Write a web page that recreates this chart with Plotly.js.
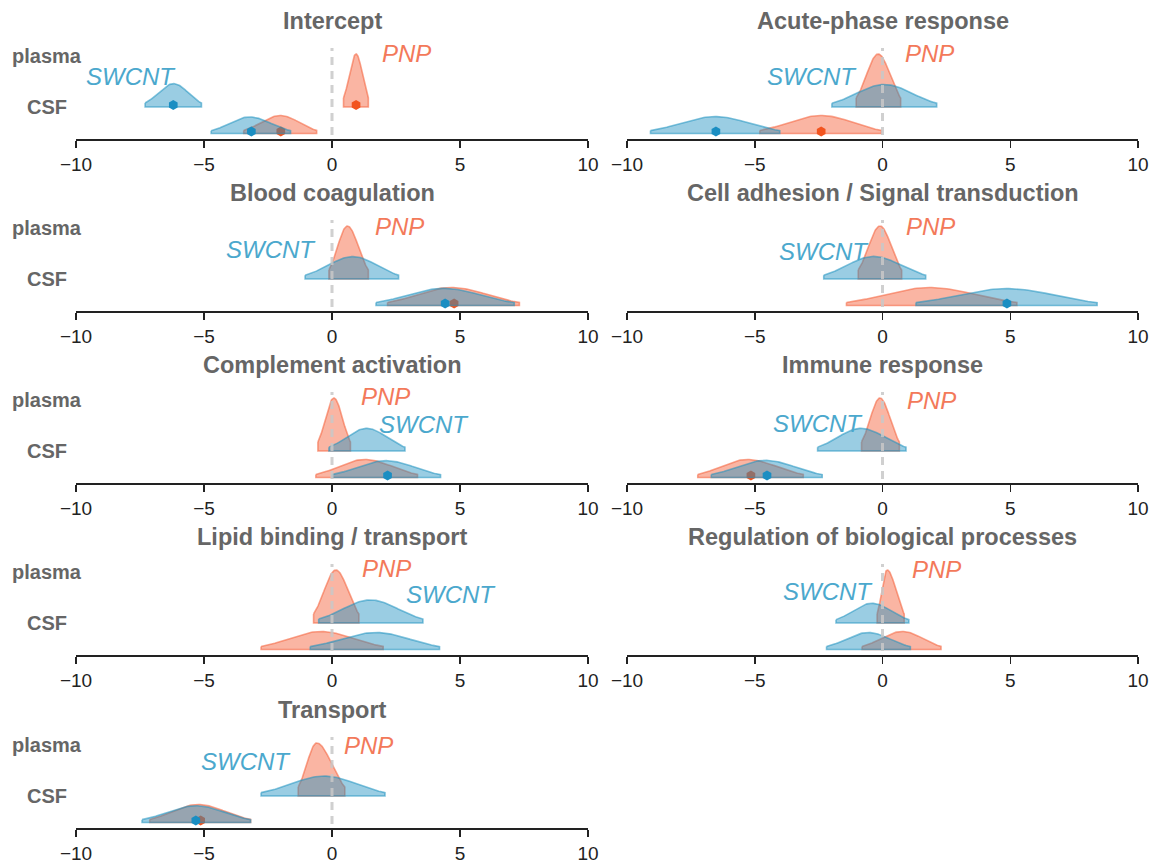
<!DOCTYPE html>
<html>
<head>
<meta charset="utf-8">
<script src="https://cdn.plot.ly/plotly-3.0.1.min.js"></script>
<style>html,body{margin:0;padding:0;background:#fff;}#chart{width:1156px;height:867px;}</style>
</head>
<body>
<div id="chart"></div>
<script>
// ---------------- DATA ----------------
const panels = ["Intercept", "Acute-phase response", "Blood coagulation",
  "Cell adhesion / Signal transduction", "Complement activation", "Immune response",
  "Lipid binding / transport", "Regulation of biological processes", "Transport"];
const rowLabels = ["plasma", "CSF"];
const groups = ["PNP", "SWCNT"];
const tickVals = [-10, -5, 0, 5, 10];

// posterior ridges: peak (mode), lower and upper interval bound
const pnpPlasmaPeak = [0.94, -0.17, 0.60, -0.10, 0.07, -0.10, 0.15, 0.18, -0.60];
const pnpPlasmaLo   = [0.45, -1.03, -0.12, -0.95, -0.55, -0.82, -0.72, -0.21, -1.32];
const pnpPlasmaHi   = [1.42, 0.71, 1.42, 0.75, 0.72, 0.66, 1.05, 0.85, 0.50];

const swPlasmaPeak  = [-6.19, 0.07, 0.82, -0.35, 1.35, -0.85, 1.50, -0.42, -0.30];
const swPlasmaLo    = [-7.30, -1.98, -1.05, -2.30, -0.12, -2.54, -0.52, -1.82, -2.77];
const swPlasmaHi    = [-5.10, 2.12, 2.60, 1.69, 2.85, 0.92, 3.55, 1.03, 2.07];

const pnpCsfPeak    = [-2.02, -2.40, 4.65, 1.83, 1.27, -5.30, -0.45, 0.78, -5.25];
const pnpCsfLo      = [-3.45, -4.80, 2.17, -1.41, -0.63, -7.23, -2.77, -0.80, -7.12];
const pnpCsfHi      = [-0.60, -0.04, 7.32, 5.26, 3.34, -3.10, 2.00, 2.29, -3.18];

const swCsfPeak     = [-3.22, -6.56, 4.35, 4.87, 2.10, -4.59, 1.72, -0.56, -5.32];
const swCsfLo       = [-4.72, -9.08, 1.72, 1.31, 0.00, -6.70, -0.85, -2.19, -7.42];
const swCsfHi       = [-1.62, -4.02, 7.12, 8.40, 4.24, -2.36, 4.20, 1.09, -3.18];

// point markers (credible effect), null = no marker
const pnpPlasmaMark = [0.94, null, null, null, null, null, null, null, null];
const swPlasmaMark  = [-6.20, null, null, null, null, null, null, null, null];
const pnpCsfMark    = [-2.00, -2.40, 4.77, null, null, -5.15, null, null, -5.13];
const swCsfMark     = [-3.15, -6.52, 4.42, 4.87, 2.17, -4.52, null, null, -5.32];

// ---------------- LAYOUT CONSTANTS ----------------
const W = 1156, H = 867;
const colPx = [[76, 588], [627, 1138]];
const axisPx = [139, 311, 483, 655, 828];
const plotH = 110;             // y units == pixels above axis line
const baseY = {plasma: 32, CSF: 5.5};
const maxH  = {plasma: 53, CSF: 18};
const labelPos = { // [pnpX, pnpY, swX, swY]
  0: [2.92, 86, -7.87, 63], 1: [1.83, 86, -2.75, 63], 2: [2.62, 85, -2.37, 62],
  3: [1.88, 85, -2.30, 60], 4: [2.10, 87, 3.60, 59], 5: [1.90, 83, -2.54, 60],
  6: [2.13, 87, 4.65, 61], 7: [2.12, 86, -2.12, 64], 8: [1.42, 83, -3.37, 67]
};

const FONT = "Liberation Sans, Arial, Helvetica, sans-serif";
const PNP_FILL = "rgba(244,100,62,0.48)", PNP_LINE = "rgba(244,100,62,0.58)", PNP_MARK = "#f2541f", PNP_TXT = "#f3795a";
const SW_FILL = "rgba(30,145,192,0.45)", SW_LINE = "rgba(30,145,192,0.55)", SW_MARK = "#1b8ec2", SW_TXT = "#4ba8cd";

function ridge(peak, lo, hi, base, h) {
  const sl = (peak - lo) / 1.88, sr = (hi - peak) / 1.88;
  const xs = [], ys = [];
  const n = 80;
  for (let k = 0; k <= n; k++) {
    const x = lo + (hi - lo) * k / n;
    const s = x < peak ? sl : sr;
    xs.push(x);
    ys.push(base + h * Math.exp(-0.5 * Math.pow((x - peak) / s, 2)));
  }
  xs.push(hi, lo, lo); ys.push(base, base, ys[0]);
  return {xs, ys};
}
function width(peak, lo, hi) { return ((peak - lo) + (hi - peak)) / 3.76; }

const traces = [];
const layout = {
  width: W, height: H, margin: {l: 0, r: 0, t: 0, b: 0},
  paper_bgcolor: "#fff", plot_bgcolor: "rgba(0,0,0,0)",
  showlegend: false, annotations: [], shapes: [],
  font: {family: FONT}
};

panels.forEach((name, i) => {
  const row = Math.floor(i / 2), col = i % 2;
  const ax = i === 0 ? "" : String(i + 1);
  const xa = "x" + ax, ya = "y" + ax;
  const bottom = axisPx[row], top = bottom - plotH;
  layout["xaxis" + ax] = {
    domain: [colPx[col][0] / W, colPx[col][1] / W], anchor: ya,
    range: [-10, 10], tickvals: tickVals, ticks: "outside", ticklen: 7, tickwidth: 1.5,
    tickcolor: "#222", showline: true, linecolor: "#222", linewidth: 2,
    showgrid: false, zeroline: false, fixedrange: true,
    tickfont: {size: 19, color: "#222", family: FONT}
  };
  layout["yaxis" + ax] = {
    domain: [1 - bottom / H, 1 - top / H], anchor: xa, range: [0, plotH],
    visible: false, fixedrange: true
  };

  // per-row height normalisation (narrower density -> taller ridge)
  const wPP = width(pnpPlasmaPeak[i], pnpPlasmaLo[i], pnpPlasmaHi[i]);
  const wSP = width(swPlasmaPeak[i], swPlasmaLo[i], swPlasmaHi[i]);
  const wPC = width(pnpCsfPeak[i], pnpCsfLo[i], pnpCsfHi[i]);
  const wSC = width(swCsfPeak[i], swCsfLo[i], swCsfHi[i]);
  const minP = Math.min(wPP, wSP), minC = Math.min(wPC, wSC);

  const defs = [
    {g: "PNP", peak: pnpPlasmaPeak[i], lo: pnpPlasmaLo[i], hi: pnpPlasmaHi[i], r: "plasma", h: maxH.plasma * minP / wPP, mark: pnpPlasmaMark[i]},
    {g: "PNP", peak: pnpCsfPeak[i], lo: pnpCsfLo[i], hi: pnpCsfHi[i], r: "CSF", h: maxH.CSF * minC / wPC, mark: pnpCsfMark[i]},
    {g: "SWCNT", peak: swPlasmaPeak[i], lo: swPlasmaLo[i], hi: swPlasmaHi[i], r: "plasma", h: maxH.plasma * minP / wSP, mark: swPlasmaMark[i]},
    {g: "SWCNT", peak: swCsfPeak[i], lo: swCsfLo[i], hi: swCsfHi[i], r: "CSF", h: maxH.CSF * minC / wSC, mark: swCsfMark[i]}
  ];
  ["PNP", "SWCNT"].forEach(g => {
    const isP = g === "PNP";
    defs.filter(d => d.g === g).forEach(d => {
      const c = ridge(d.peak, d.lo, d.hi, baseY[d.r], d.h);
      traces.push({type: "scatter", mode: "lines", x: c.xs, y: c.ys, xaxis: xa, yaxis: ya,
        fill: "toself", fillcolor: isP ? PNP_FILL : SW_FILL,
        line: {color: isP ? PNP_LINE : SW_LINE, width: 1.6}, hoverinfo: "skip"});
    });
    const mx = [], my = [];
    defs.filter(d => d.g === g && d.mark !== null).forEach(d => { mx.push(d.mark); my.push(baseY[d.r] + 2); });
    if (mx.length) traces.push({type: "scatter", mode: "markers", x: mx, y: my, xaxis: xa, yaxis: ya,
      marker: {symbol: "hexagon", size: 10, color: isP ? PNP_MARK : SW_MARK, line: {width: 0}}, hoverinfo: "skip"});
  });

  // zero reference line
  layout.shapes.push({type: "line", xref: xa, yref: ya, x0: 0, x1: 0, y0: 4, y1: 91,
    line: {color: "rgba(200,200,200,0.85)", width: 3, dash: "8px,6px"}, layer: "above"});

  // panel title (paper coords so it is not hidden outside the y range)
  const xc = (colPx[col][0] + colPx[col][1]) / 2 / W;
  layout.annotations.push({xref: "paper", yref: "paper", x: xc, y: 1 - (bottom - 118) / H, text: name, showarrow: false,
    font: {family: FONT, size: 23.5, color: "#666", weight: "bold"}, xanchor: "center", yanchor: "middle"});
  // group labels
  const lp = labelPos[i];
  layout.annotations.push({xref: xa, yref: ya, x: lp[0], y: lp[1], text: groups[0], showarrow: false,
    font: {family: FONT, size: 24, color: PNP_TXT, style: "italic"}, xanchor: "center", yanchor: "middle"});
  layout.annotations.push({xref: xa, yref: ya, x: lp[2], y: lp[3], text: groups[1], showarrow: false,
    font: {family: FONT, size: 24, color: SW_TXT, style: "italic"}, xanchor: "center", yanchor: "middle"});
  // row labels (left column only)
  if (col === 0) {
    layout.annotations.push({xref: "paper", yref: ya, x: 47 / W, y: 83, text: rowLabels[0], showarrow: false,
      font: {family: FONT, size: 20, color: "#666", weight: "bold"}, xanchor: "center", yanchor: "middle"});
    layout.annotations.push({xref: "paper", yref: ya, x: 47 / W, y: 32, text: rowLabels[1], showarrow: false,
      font: {family: FONT, size: 20, color: "#666", weight: "bold"}, xanchor: "center", yanchor: "middle"});
  }
});

Plotly.newPlot("chart", traces, layout, {staticPlot: true, displayModeBar: false});
</script>
</body>
</html>
